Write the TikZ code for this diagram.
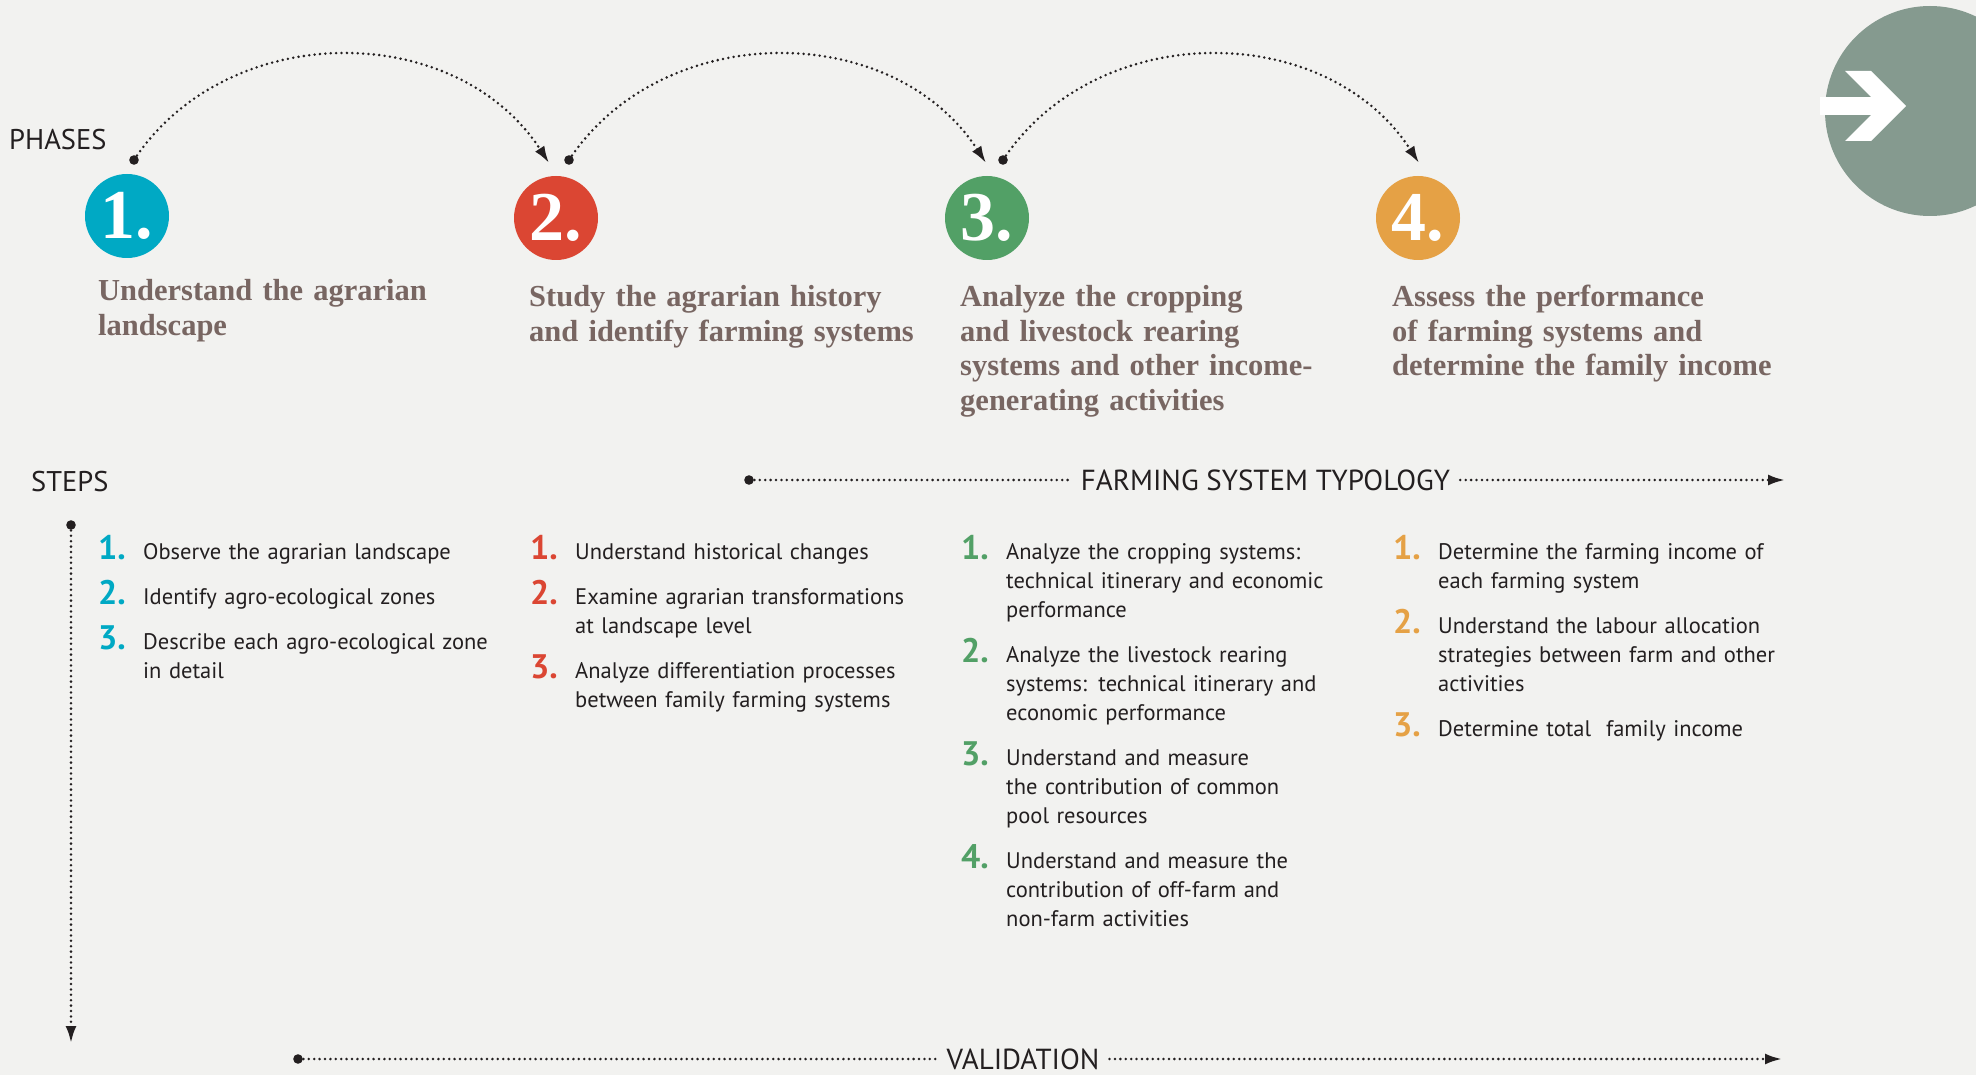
\documentclass[tikz,border=0pt]{standalone}
\usepackage{fontspec}
\setmainfont{PT Sans}
\newfontfamily\titlefont{Liberation Serif}
\usetikzlibrary{arrows.meta}
\definecolor{bgc}{HTML}{F2F2F0}
\definecolor{darktxt}{HTML}{231F20}
\definecolor{teal1}{HTML}{00A9C4}
\definecolor{red2}{HTML}{DB4633}
\definecolor{green3}{HTML}{52A066}
\definecolor{orange4}{HTML}{E5A145}
\definecolor{greyc}{HTML}{859A8F}
\definecolor{titlebrown}{HTML}{786662}
\newcommand\StepItem[6]{%
  \node[stepnum, text=#2] (#1n) at (#3,#4) {#5.};
  \node[steptext] (#1t) at (#3+45,#4) {#6};}
\begin{document}
\begin{tikzpicture}[x=1pt,y=-1pt,
  dotline/.style={line width=2.8pt, dash pattern=on 0pt off 5.4pt, line cap=round, draw=darktxt},
  tipa/.style={-{Latex[length=17pt,width=11pt]}},
  dotstart/.style={fill=darktxt},
  phasecirc/.style={circle, minimum size=84pt, inner sep=0pt, text=white, font=\titlefont\bfseries\fontsize{70}{70}\selectfont},
  phasetitle/.style={anchor=base west, inner sep=0pt, text width=460pt, align=left, text=titlebrown, font=\titlefont\bfseries\fontsize{30.5}{34.5}\selectfont},
  headlbl/.style={anchor=base west, inner sep=0pt, text=darktxt, font=\fontsize{28.5}{30}\selectfont},
  midlbl/.style={anchor=center, inner xsep=10pt, inner ysep=0pt, text=darktxt, font=\fontsize{29}{30}\selectfont},
  stepnum/.style={anchor=base west, inner sep=0pt, font=\fontsize{34}{34}\selectfont\bfseries},
  steptext/.style={anchor=base west, inner sep=0pt, text width=420pt, align=left, text=darktxt, font=\fontsize{22.5}{29}\selectfont}
]
\useasboundingbox (0,0) rectangle (1976,1075);
\clip (0,0) rectangle (1976,1075);
\fill[bgc] (0,0) rectangle (1976,1075);

% next circle with arrow
\node[circle, fill=greyc, minimum size=210pt, inner sep=0pt] (nextc) at (1930,111) {};
\fill[white] (1820,97) rectangle (1882,115);
\fill[white] (1845,71) -- (1871,71) -- (1906,106) -- (1871,141) -- (1845,141) -- (1880,106) -- cycle;

% phases
\node[headlbl] (phases) at (9,150) {PHASES};
\node[phasecirc, fill=teal1] (p1) at (127,216) {1.};
\node[phasecirc, fill=red2] (p2) at (556,218) {2.};
\node[phasecirc, fill=green3] (p3) at (987,218) {3.};
\node[phasecirc, fill=orange4] (p4) at (1418,218) {4.};

\node[phasetitle] (t1) at (98,301) {Understand the agrarian\\landscape};
\node[phasetitle] (t2) at (529,307) {Study the agrarian history\\and identify farming systems};
\node[phasetitle] (t3) at (960,307) {Analyze the cropping\\and livestock rearing\\systems and other income-\\generating activities};
\node[phasetitle] (t4) at (1392,307) {Assess the performance\\of farming systems and\\determine the family income};

% arcs between phases
\coordinate (d1) at (134,160); \coordinate (a2) at (549,163);
\coordinate (d2) at (569,160); \coordinate (a3) at (986,163);
\coordinate (d3) at (1003,160); \coordinate (a4) at (1419,163);
\foreach \d in {d1,d2,d3} \fill[dotstart] (\d) circle (4.8);
\draw[dotline, tipa] (d1) .. controls +(93,-141) and +(-93,-144) .. (a2);
\draw[dotline, tipa] (d2) .. controls +(93,-141) and +(-93,-144) .. (a3);
\draw[dotline, tipa] (d3) .. controls +(93,-141) and +(-93,-144) .. (a4);

% steps
\node[headlbl] (steps) at (31,491) {STEPS};
\coordinate (sd) at (71,525); \coordinate (se) at (71,1043);
\fill[dotstart] (sd) circle (4.8);
\draw[dotline, tipa] (sd) -- (se);

% farming system typology
\coordinate (fd) at (749,480); \coordinate (fe) at (1785,480);
\node[midlbl] (fst) at (1265.5,480) {FARMING SYSTEM TYPOLOGY};
\fill[dotstart] (fd) circle (4.8);
\draw[dotline] (fd) -- (fst.west);
\draw[dotline, tipa] (fst.east) -- (fe);

% validation
\coordinate (vd) at (298,1059); \coordinate (ve) at (1782,1059);
\node[midlbl] (val) at (1023,1059) {VALIDATION};
\fill[dotstart] (vd) circle (4.8);
\draw[dotline] (vd) -- (val.west);
\draw[dotline, tipa] (val.east) -- (ve);

% step items
\StepItem{a1}{teal1}{98}{559}{1}{Observe the agrarian landscape}
\StepItem{a2}{teal1}{98}{604}{2}{Identify agro-ecological zones}
\StepItem{a3}{teal1}{98}{649}{3}{Describe each agro-ecological zone\\in detail}

\StepItem{b1}{red2}{530}{559}{1}{Understand historical changes}
\StepItem{b2}{red2}{530}{604}{2}{Examine agrarian transformations\\at landscape level}
\StepItem{b3}{red2}{530}{678}{3}{Analyze differentiation processes\\between family farming systems}

\StepItem{c1}{green3}{961}{559}{1}{Analyze the cropping systems:\\technical itinerary and economic\\performance}
\StepItem{c2}{green3}{961}{662}{2}{Analyze the livestock rearing\\systems: technical itinerary and\\economic performance}
\StepItem{c3}{green3}{961}{765}{3}{Understand and measure\\the contribution of common\\pool resources}
\StepItem{c4}{green3}{961}{868}{4}{Understand and measure the\\contribution of off-farm and\\non-farm activities}

\StepItem{e1}{orange4}{1393}{559}{1}{Determine the farming income of\\each farming system}
\StepItem{e2}{orange4}{1393}{633}{2}{Understand the labour allocation\\strategies between farm and other\\activities}
\StepItem{e3}{orange4}{1393}{736}{3}{Determine total\ \ family income}
\end{tikzpicture}
\end{document}
